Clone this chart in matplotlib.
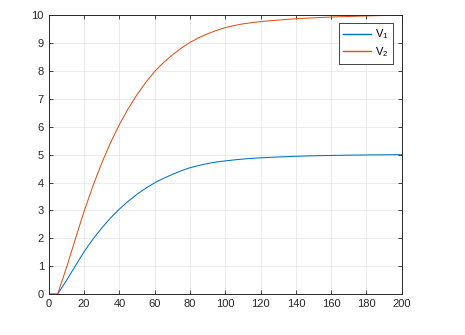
import matplotlib
matplotlib.use('Agg')
import matplotlib.pyplot as plt

# values
t = [0, 5, 10, 15, 20, 25, 30, 35, 40, 45, 50, 55, 60, 65, 70, 75, 80, 85, 90, 95,
     100, 105, 110, 115, 120, 130, 140, 150, 160, 170, 180, 190, 200]
v1 = [0, 0, 0.49, 1.01, 1.52, 1.97, 2.37, 2.73, 3.05, 3.33, 3.58, 3.8, 3.99, 4.15, 4.29,
      4.42, 4.53, 4.61, 4.68, 4.735, 4.775, 4.81, 4.84, 4.865, 4.885, 4.915, 4.94, 4.958,
      4.97, 4.98, 4.988, 4.994, 4.998]
v2 = [0, 0, 0.95, 1.97, 2.97, 3.88, 4.7, 5.43, 6.08, 6.65, 7.15, 7.59, 7.98, 8.3, 8.57,
      8.81, 9.02, 9.19, 9.33, 9.45, 9.55, 9.625, 9.685, 9.73, 9.765, 9.82, 9.87, 9.9, 9.93,
      9.95, 9.97, 9.985, 9.995]
labels = [r'$\mathregular{V_1}$', r'$\mathregular{V_2}$']

plt.rcParams['font.family'] = ['Liberation Sans', 'DejaVu Sans']
plt.rcParams['font.size'] = 8

fig = plt.figure(figsize=(4.65, 3.35), dpi=100)
ax = fig.add_axes([0.105, 0.122, 0.759, 0.833])

ax.plot(t, v1, color='#0072BD', lw=0.75, label=labels[0])
ax.plot(t, v2, color='#D95319', lw=0.75, label=labels[1])

ax.set_xlim(0, 200)
ax.set_ylim(0, 10)
ax.set_xticks(range(0, 201, 20))
ax.set_yticks(range(0, 11))
ax.grid(True, color='#e3e3e3', lw=0.5)
ax.set_axisbelow(True)
ax.tick_params(direction='in', length=3, width=0.6, colors='#262626',
               top=True, right=True, labelsize=8)
for s in ax.spines.values():
    s.set_color('#262626')
    s.set_linewidth(0.7)

leg = ax.legend(loc='upper right', bbox_to_anchor=(0.975, 0.971), borderaxespad=0,
                fancybox=False, framealpha=1, edgecolor='#262626', handlelength=2.5,
                handletextpad=0.35, borderpad=0.4, labelspacing=0.35, fontsize=8)
leg.get_frame().set_linewidth(0.6)
for h in leg.get_lines():
    h.set_linewidth(1.0)

fig.savefig('out.png', dpi=100)
